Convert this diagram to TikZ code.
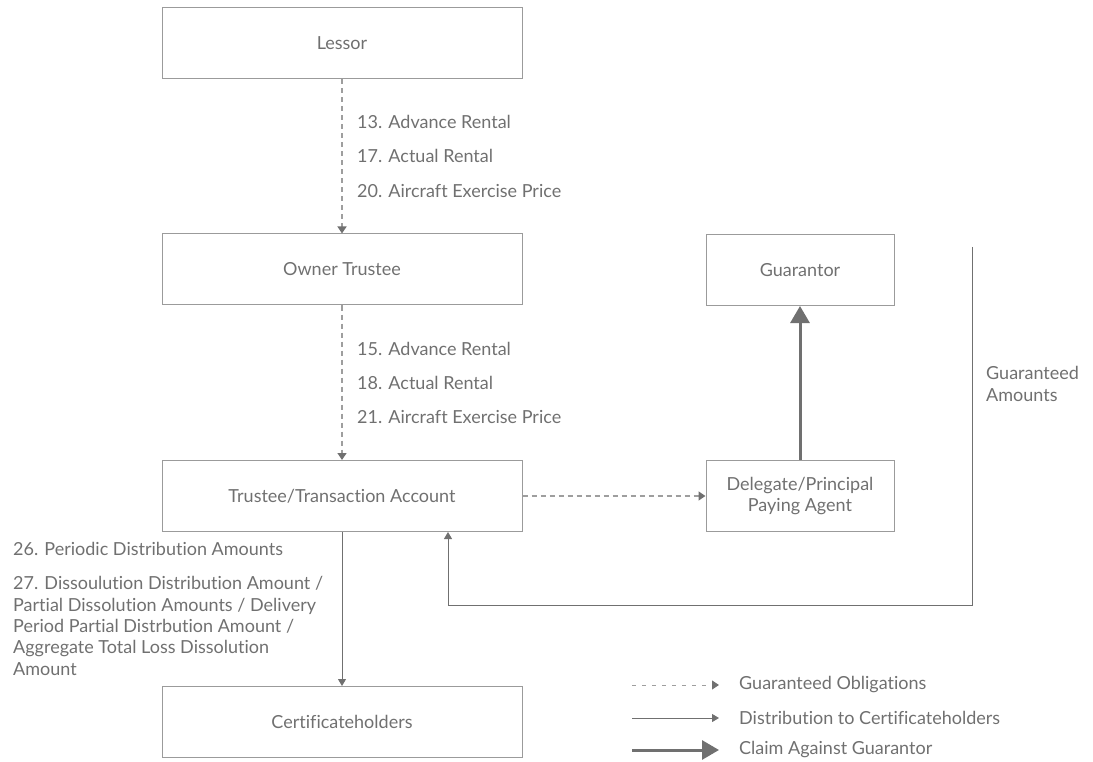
\documentclass[tikz,border=0pt]{standalone}
\usepackage{fontspec}
\setmainfont{Lato}[Ligatures=NoCommon]
\usetikzlibrary{arrows.meta}
\definecolor{txt}{HTML}{707070}
\definecolor{boxc}{HTML}{9B9B9B}
\definecolor{arr}{HTML}{707070}
\definecolor{dsh}{HTML}{9E9E9E}
\begin{document}
\begin{tikzpicture}[x=1pt,y=-1pt,
  font=\fontsize{18}{21.4}\selectfont, text=txt,
  entity/.style={draw=boxc, line width=1pt, minimum width=360pt, minimum height=71pt, inner sep=0pt, align=center},
  sentity/.style={entity, minimum width=188pt},
  lbl/.style={anchor=west, inner sep=0pt, align=left},
  guar/.style={draw=dsh, line width=1.3pt, dash pattern=on 5pt off 4pt, -{Triangle[width=9pt,length=7pt,color=arr]}},
  dist/.style={draw=arr, line width=1pt, -{Triangle[width=8pt,length=7pt]}},
  claim/.style={draw=arr, line width=3pt, -{Triangle[width=19pt,length=17pt]}}]
\useasboundingbox (0,0) rectangle (1093,762);

\node[entity] (lessor) at (342,43.5) {Lessor};
\node[entity] (owner) at (342,269.5) {Owner Trustee};
\node[entity] (trustee) at (342,496) {Trustee/Transaction Account};
\node[entity] (cert) at (342,722) {Certificateholders};
\node[sentity] (guarantor) at (800,270) {Guarantor};
\node[sentity] (delegate) at (800,496) {Delegate/Principal\\Paying Agent};

\draw[guar] (lessor) -- (owner);
\draw[guar] (owner) -- (trustee);
\draw[guar] (trustee) -- (delegate);
\draw[claim] (delegate) -- (guarantor);
\draw[dist] (trustee) -- (cert);

\coordinate (gatop) at (972,247);
\coordinate (gabot) at (972,605);
\draw[dist] (gatop) -- (gabot) -- (448,605) -- (448,532);

\node[lbl] (l13) at (357,122) {13. Advance Rental};
\node[lbl] (l17) at (357,156) {17. Actual Rental};
\node[lbl] (l20) at (357,191) {20. Aircraft Exercise Price};
\node[lbl] (l15) at (357,348.5) {15. Advance Rental};
\node[lbl] (l18) at (357,383) {18. Actual Rental};
\node[lbl] (l21) at (357,417.5) {21. Aircraft Exercise Price};
\node[lbl] (l26) at (13,548.5) {26. Periodic Distribution Amounts};
\node[lbl] (l27) at (13,626) {27. Dissoulution Distribution Amount /\\Partial Dissolution Amounts / Delivery\\Period Partial Distrbution Amount /\\Aggregate Total Loss Dissolution\\Amount};
\node[lbl] (lga) at (986,384) {Guaranteed\\Amounts};

\coordinate (k1a) at (632,685); \coordinate (k1b) at (719,685);
\coordinate (k2a) at (632,718); \coordinate (k2b) at (719,718);
\coordinate (k3a) at (632,750); \coordinate (k3b) at (719,750);
\draw[guar, line width=1pt, dash pattern=on 4pt off 6pt] (k1a) -- (k1b);
\draw[dist] (k2a) -- (k2b);
\draw[claim] (k3a) -- (k3b);
\node[lbl] (t1) at (739,685) {Guaranteed Obligations};
\node[lbl] (t2) at (739,718) {Distribution to Certificateholders};
\node[lbl] (t3) at (739,750) {Claim Against Guarantor};
\end{tikzpicture}
\end{document}
